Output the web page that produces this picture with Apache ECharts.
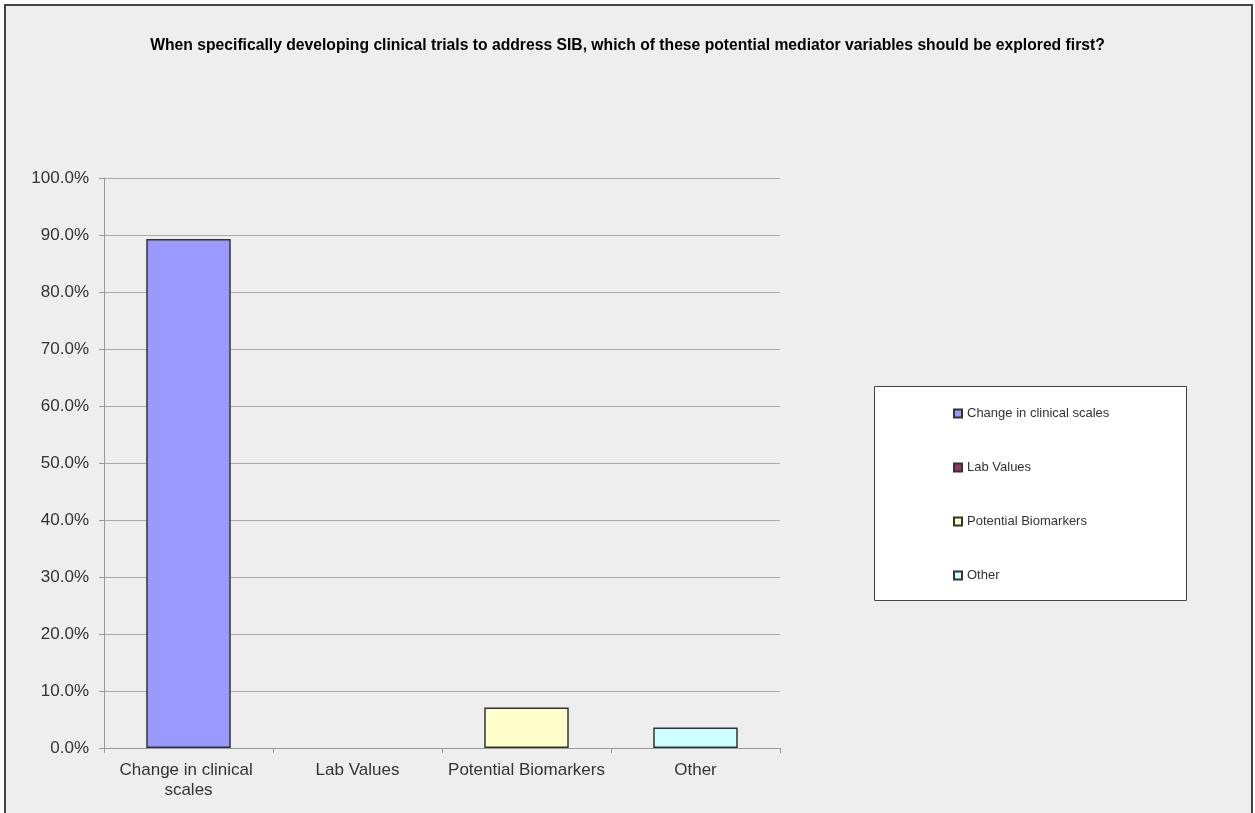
<!DOCTYPE html>
<html>
<head>
<meta charset="utf-8">
<script src="https://cdn.jsdelivr.net/npm/echarts@6/dist/echarts.min.js"></script>
<style>
  html, body { margin: 0; padding: 0; background: #ffffff; }
  #chart { width: 1255px; height: 813px; }
</style>
</head>
<body>
<div id="chart"></div>
<script>
// Survey answers: share of respondents per mediator variable (%)
const categories = ['Change in clinical scales', 'Lab Values', 'Potential Biomarkers', 'Other'];
const shares = [89.3, 0.0, 7.1, 3.6];
const barColors = ['#9999ff', '#993366', '#ffffcc', '#ccffff'];
const yTicks = [0, 10, 20, 30, 40, 50, 60, 70, 80, 90, 100];

const FONT = '"Liberation Sans", Arial, sans-serif';

// One series per category so the legend lists each answer; stacking keeps
// every bar centred in its own category band. Empty answers get no outline.
const series = categories.map((name, i) => ({
  name: name,
  type: 'bar',
  stack: 'answers',
  barWidth: '50%',
  data: categories.map((_, j) => {
    if (j !== i) return null;
    return shares[i] === 0
      ? { value: shares[i], itemStyle: { borderWidth: 0 } }
      : shares[i];
  }),
  itemStyle: { color: barColors[i], borderColor: '#333333', borderWidth: 1.5 }
}));

const chart = echarts.init(document.getElementById('chart'), null, { renderer: 'canvas' });
chart.setOption({
  animation: false,
  backgroundColor: '#ffffff',
  textStyle: { fontFamily: FONT },
  graphic: [
    {
      type: 'rect', z: -10, silent: true,
      shape: { x: 5, y: 5, width: 1247, height: 900 },
      style: { fill: '#eeeeee', stroke: '#444444', lineWidth: 2 }
    },
    {
      type: 'rect', z: -5, silent: true,
      shape: { x: 874.5, y: 386.5, width: 312, height: 214 },
      style: { fill: '#ffffff', stroke: '#444444', lineWidth: 1 }
    }
  ],
  title: {
    text: 'When specifically developing clinical trials to address SIB, which of these potential mediator variables should be explored first?',
    left: 'center',
    top: 33,
    textStyle: { fontFamily: FONT, fontSize: 15.7, fontWeight: 'bold', color: '#000000' }
  },
  legend: {
    orient: 'vertical',
    left: 953,
    top: 406,
    padding: 0,
    itemWidth: 8,
    itemHeight: 8,
    itemGap: 39,
    itemTextGap: 1,
    icon: 'rect',
    data: categories,
    textStyle: { fontFamily: FONT, fontSize: 13, color: '#333333', lineHeight: 15 }
  },
  grid: { left: 104, top: 178, right: 475, bottom: 65, containLabel: false },
  xAxis: {
    type: 'category',
    data: categories,
    axisLine: { lineStyle: { color: '#999999', width: 1 } },
    axisTick: { show: true, length: 5, alignWithLabel: false, lineStyle: { color: '#999999' } },
    axisLabel: {
      margin: 12,
      fontFamily: FONT,
      fontSize: 17,
      color: '#333333',
      lineHeight: 20,
      width: 165,
      overflow: 'break',
      interval: 0
    }
  },
  yAxis: {
    type: 'value',
    min: yTicks[0],
    max: yTicks[yTicks.length - 1],
    interval: yTicks[1] - yTicks[0],
    axisLine: { show: true, lineStyle: { color: '#999999', width: 1 } },
    axisTick: { show: true, length: 5, lineStyle: { color: '#999999' } },
    splitLine: { show: true, lineStyle: { color: '#aaaaaa', width: 1 } },
    axisLabel: {
      margin: 15,
      fontFamily: FONT,
      fontSize: 17,
      color: '#333333',
      formatter: v => v.toFixed(1) + '%'
    }
  },
  series: series
});
</script>
</body>
</html>
